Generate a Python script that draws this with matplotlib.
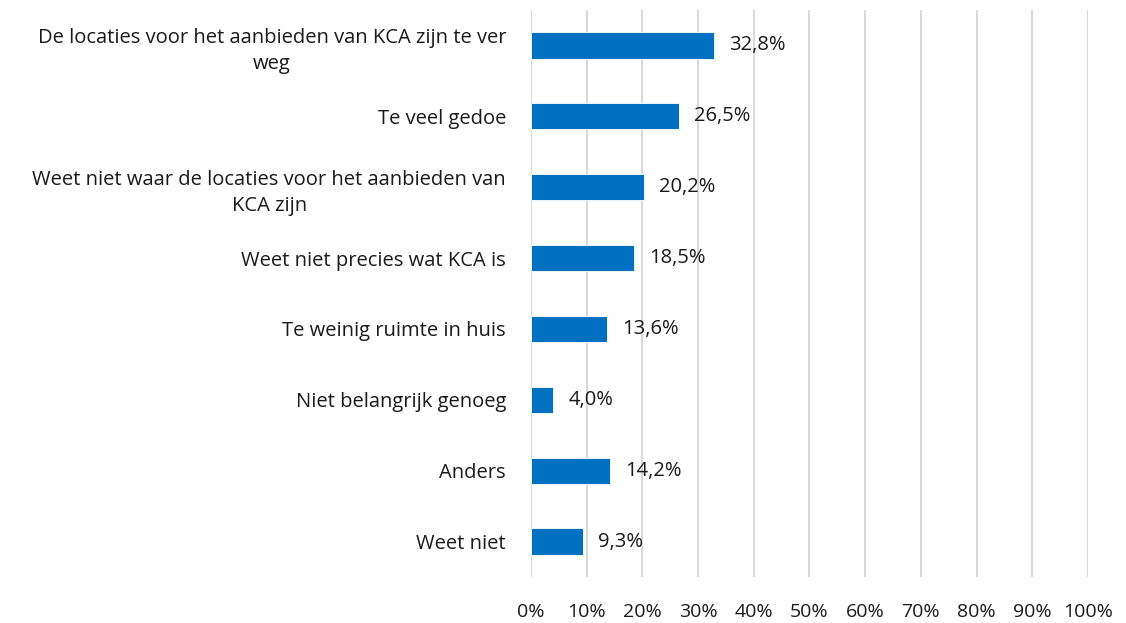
import matplotlib.pyplot as plt
from matplotlib.ticker import FixedLocator

categories = [
    "De locaties voor het aanbieden van KCA zijn te ver\nweg",
    "Te veel gedoe",
    "Weet niet waar de locaties voor het aanbieden van\nKCA zijn",
    "Weet niet precies wat KCA is",
    "Te weinig ruimte in huis",
    "Niet belangrijk genoeg",
    "Anders",
    "Weet niet",
]
values = [32.8, 26.5, 20.2, 18.5, 13.6, 4.0, 14.2, 9.3]
xticks = [0, 10, 20, 30, 40, 50, 60, 70, 80, 90, 100]

plt.rcParams['font.family'] = ['Open Sans', 'DejaVu Sans']
txt = '#1a1a1a'

fig = plt.figure(figsize=(11.26, 6.23), dpi=100)
ax = fig.add_axes([0.4716, 0.0738, 0.4946, 0.9102])

pos = list(range(len(categories)))
ax.barh(pos, values, height=0.37, color='#0070C0', edgecolor='white', linewidth=0.6, zorder=3)
for y, v in zip(pos, values):
    ax.annotate(f"{v:.1f}%".replace('.', ','), (v, y), xytext=(11, 0), textcoords='offset points',
                va='center', ha='left', fontsize=14.5, color=txt)

ax.set_ylim(len(categories) - 0.5, -0.5)
ax.set_xlim(0, 100)
ax.set_yticks(pos)
ax.set_yticklabels(categories, fontsize=14.5, color=txt, multialignment='center', linespacing=1.4)
ax.xaxis.set_major_locator(FixedLocator(xticks))
ax.set_xticklabels([f"{t}%" for t in xticks], fontsize=14, color=txt)
ax.tick_params(axis='both', length=0)
ax.tick_params(axis='x', pad=19)
ax.tick_params(axis='y', pad=18)
ax.grid(axis='x', color='#d9d9d9', linewidth=1.5, zorder=0)
for s in ax.spines.values():
    s.set_visible(False)

fig.savefig('out.png', dpi=100)
